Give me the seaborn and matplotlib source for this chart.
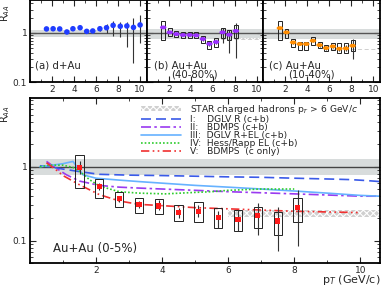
import numpy as np
import pandas as pd
import matplotlib
matplotlib.use("Agg")
import matplotlib.pyplot as plt
import seaborn as sns
from matplotlib.path import Path
from matplotlib.transforms import Affine2D
from matplotlib.ticker import FixedLocator, FixedFormatter, LogLocator, NullFormatter, MultipleLocator

# ---- data ----
dau_pt = [1.5, 2.1, 2.7, 3.35, 3.9, 4.55, 5.15, 5.7, 6.35, 6.95, 7.55, 8.2, 8.8, 9.4, 10.0]
dau_val = [1.21, 1.22, 1.21, 1.05, 1.22, 1.28, 1.08, 1.10, 1.22, 1.28, 1.43, 1.37, 1.39, 1.30, 1.46]
dau_lo = [1.17, 1.18, 1.17, 1.01, 1.17, 1.22, 1.03, 1.04, 1.08, 1.0, 0.88, 0.81, 0.53, 0.25, 0.62]
dau_hi = [1.25, 1.26, 1.25, 1.09, 1.27, 1.34, 1.13, 1.17, 1.39, 1.53, 1.73, 1.65, 1.65, 2.0, 2.36]

aa_pt = [1.5, 2.1, 2.7, 3.3, 3.9, 4.5, 5.1, 5.7, 6.3, 6.9, 7.5, 8.1]

per_val = [1.30, 1.03, 0.95, 0.91, 0.91, 0.895, 0.755, 0.60, 0.655, 1.03, 0.92, 1.10]
per_sys_lo = [0.73, 0.85, 0.83, 0.79, 0.79, 0.79, 0.64, 0.47, 0.53, 0.79, 0.71, 0.79]
per_sys_hi = [1.72, 1.26, 1.08, 1.03, 1.03, 1.03, 0.88, 0.70, 0.79, 1.26, 1.13, 1.48]
per_lo = [1.24, 0.98, 0.91, 0.87, 0.87, 0.85, 0.70, 0.54, 0.59, 0.62, 0.40, 0.31]
per_hi = [1.36, 1.08, 0.99, 0.95, 0.95, 0.94, 0.81, 0.67, 0.73, 1.26, 1.17, 1.60]

mid_val = [1.26, 1.03, 0.643, 0.596, 0.596, 0.696, 0.568, 0.494, 0.534, 0.478, 0.485, 0.55]
mid_sys_lo = [0.73, 0.79, 0.53, 0.46, 0.46, 0.58, 0.49, 0.42, 0.45, 0.39, 0.40, 0.42]
mid_sys_hi = [1.72, 1.20, 0.75, 0.67, 0.67, 0.83, 0.66, 0.58, 0.64, 0.62, 0.62, 0.73]
mid_lo = [1.2, 0.98, 0.61, 0.56, 0.56, 0.66, 0.53, 0.46, 0.49, 0.43, 0.42, 0.29]
mid_hi = [1.32, 1.08, 0.68, 0.63, 0.63, 0.73, 0.61, 0.53, 0.58, 0.53, 0.56, 0.75]

cen_val = [0.98, 0.54, 0.37, 0.31, 0.295, 0.24, 0.25, 0.205, 0.195, 0.22, 0.185, 0.28]
cen_sys_lo = [0.52, 0.38, 0.285, 0.24, 0.23, 0.186, 0.18, 0.15, 0.134, 0.15, 0.12, 0.18]
cen_sys_hi = [1.45, 0.69, 0.46, 0.38, 0.37, 0.30, 0.33, 0.28, 0.26, 0.29, 0.245, 0.38]
cen_lo = [0.8, 0.48, 0.33, 0.28, 0.26, 0.20, 0.21, 0.15, 0.134, 0.12, 0.072, 0.084]
cen_hi = [1.2, 0.60, 0.40, 0.34, 0.35, 0.28, 0.30, 0.25, 0.26, 0.32, 0.29, 0.49]

# theory curves (bottom panel)
dglv_pt = [0.3, 0.6, 1.0, 1.5, 2.1, 3.0, 4.0, 5.0, 6.0, 7.0, 8.0, 8.6, 9.2, 9.7, 10.2, 10.6]
dglv_val = [1.03, 1.0, 0.93, 0.86, 0.79, 0.77, 0.76, 0.745, 0.73, 0.72, 0.70, 0.69, 0.68, 0.67, 0.65, 0.63]
bdmps_pt = [0.5, 0.8, 1.1, 1.5, 2.1, 2.7, 3.3, 4.0, 5.0, 6.0, 7.0, 8.0, 9.0, 10.0, 10.6]
bdmps_val = [1.18, 0.95, 0.78, 0.64, 0.56, 0.53, 0.515, 0.50, 0.48, 0.46, 0.445, 0.43, 0.415, 0.40, 0.40]
dglvel_pt = [0.3, 0.6, 1.0, 1.3, 1.6, 2.0, 2.7, 3.3, 4.0, 5.0, 6.0, 7.0, 8.0, 9.0, 10.0, 10.6]
dglvel_val = [1.0, 1.04, 1.1, 1.18, 0.78, 0.70, 0.66, 0.63, 0.60, 0.56, 0.53, 0.50, 0.47, 0.44, 0.41, 0.40]
hess_pt = [0.3, 0.6, 1.0, 1.3, 1.5, 1.8, 2.1, 2.7, 3.3, 4.1, 5.0, 5.5, 6.0, 7.0, 8.0]
hess_val = [1.0, 1.05, 1.05, 0.98, 0.87, 0.67, 0.55, 0.46, 0.44, 0.43, 0.45, 0.46, 0.48, 0.50, 0.50]
bdmpsc_pt = [0.5, 0.8, 1.0, 1.5, 2.1, 2.7, 3.3, 3.9, 5.0, 6.0, 7.0, 8.0, 9.0, 10.0]
bdmpsc_val = [1.13, 0.9, 0.76, 0.57, 0.42, 0.345, 0.31, 0.30, 0.28, 0.27, 0.26, 0.25, 0.245, 0.24]

curve_labels = ["I:    DGLV R (c+b)", "II:   BDMPS (c+b)", "III:  DGLV R+EL (c+b)",
                "IV:  Hess/Rapp EL (c+b)", "V:   BDMPS  (c only)"]
star_label = "STAR charged hadrons p$_T$ > 6 GeV/$c$"
star_band = {"bot": (0.21, 0.26), "per": (0.73, 0.79), "mid": (0.44, 0.47)}
x_ticks = [2, 4, 6, 8, 10]

sns.set_theme(style="ticks")
plt.rcParams["font.family"] = ["DejaVu Sans"]
plt.rcParams["mathtext.fontset"] = "dejavusans"
plt.rcParams["hatch.linewidth"] = 0.8
plt.rcParams["hatch.color"] = "#8a8a8a"

fig = plt.figure(figsize=(3.82, 2.86), dpi=100)
w = 0.3055
ax_a = fig.add_axes([0.0785, 0.713, w, 0.287])
ax_b = fig.add_axes([0.0785 + w, 0.713, w, 0.287])
ax_c = fig.add_axes([0.0785 + 2 * w, 0.713, w, 0.287])
ax_d = fig.add_axes([0.0785, 0.0804, 0.9165, 0.577])

ellipse = Path.unit_circle().transformed(Affine2D().scale(1.7, 1.0))


def style_ax(ax, ylim, labely=True):
    ax.set_yscale("log")
    ax.set_xlim(0, 10.6)
    ax.set_ylim(*ylim)
    ax.xaxis.set_major_locator(FixedLocator(x_ticks))
    ax.xaxis.set_major_formatter(FixedFormatter([str(t) for t in x_ticks]))
    ax.xaxis.set_minor_locator(MultipleLocator(1))
    ax.yaxis.set_major_locator(FixedLocator([0.1, 1]))
    ax.yaxis.set_major_formatter(FixedFormatter(["0.1", "1"]))
    ax.yaxis.set_minor_locator(LogLocator(subs=np.arange(2, 10)))
    ax.yaxis.set_minor_formatter(NullFormatter())
    ax.tick_params(which="both", direction="in", top=True, right=True,
                   labelsize=6.5, pad=2, labelleft=labely)
    ax.tick_params(which="major", length=4, width=0.8)
    ax.tick_params(which="minor", length=2, width=0.6)
    for s in ax.spines.values():
        s.set_linewidth(1.3)
        s.set_color("black")
    ax.set_xlabel("")
    ax.set_ylabel("")


def draw_set(ax, pt, val, lo, hi, color, s, marker, sys_lo=None, sys_hi=None, bw=0.36):
    if sys_lo is not None:
        ax.bar(pt, np.array(sys_hi) - np.array(sys_lo), bottom=sys_lo, width=bw,
               fill=False, edgecolor="#222222", linewidth=0.7, zorder=3)
    ax.vlines(pt, lo, hi, color="#333333", linewidth=0.8, zorder=4)
    df = pd.DataFrame({"pt": pt, "val": val})
    sns.scatterplot(data=df, x="pt", y="val", ax=ax, color=color, s=s, marker=marker,
                    edgecolor="none", zorder=5, legend=False)


# top panels
for ax, band in [(ax_a, (0.83, 1.17)), (ax_b, (0.75, 1.2)), (ax_c, (0.75, 1.2))]:
    ax.set_yscale("log")
    ax.axhspan(*band, color="#d8dcdc", zorder=0, lw=0)
    ax.axhline(1, color="#555555", lw=1.0, zorder=1)

ax_b.fill_between([6, 10.6], *star_band["per"], facecolor="#d0d0d0", hatch="xxxxx", lw=0, zorder=1)
ax_c.fill_between([6, 10.6], *star_band["mid"], facecolor="#d0d0d0", hatch="xxxxx", lw=0, zorder=1)

draw_set(ax_a, dau_pt, dau_val, dau_lo, dau_hi, "#1f3cff", 16, "o")
draw_set(ax_b, aa_pt, per_val, per_lo, per_hi, "#9b30ff", 22, ellipse, per_sys_lo, per_sys_hi)
draw_set(ax_c, aa_pt, mid_val, mid_lo, mid_hi, "#ff8c00", 22, ellipse, mid_sys_lo, mid_sys_hi)

style_ax(ax_a, (0.1, 4.7))
style_ax(ax_b, (0.1, 4.7), labely=False)
style_ax(ax_c, (0.1, 4.7), labely=False)

ax_a.text(0.04, 0.17, "(a) d+Au", transform=ax_a.transAxes, fontsize=7.3)
ax_b.text(0.06, 0.17, "(b) Au+Au", transform=ax_b.transAxes, fontsize=7.3)
ax_b.text(0.21, 0.05, "(40-80%)", transform=ax_b.transAxes, fontsize=7.3)
ax_c.text(0.05, 0.17, "(c) Au+Au", transform=ax_c.transAxes, fontsize=7.3)
ax_c.text(0.21, 0.05, "(10-40%)", transform=ax_c.transAxes, fontsize=7.3)
ax_a.set_ylabel("R$_{AA}$", fontsize=7)
ax_a.yaxis.set_label_coords(-0.15, 0.84)

# bottom panel
ax_d.set_yscale("log")
ax_d.axhspan(0.78, 1.27, color="#d8dcdc", zorder=0, lw=0)
ax_d.axhline(1, color="#444444", lw=1.0, zorder=1)
ax_d.fill_between([6, 10.6], *star_band["bot"], facecolor="#d0d0d0", hatch="xxxxx",
                  lw=0, zorder=1, label=star_label)

curves = [(dglv_pt, dglv_val, "#3a5ae8", (0, (6, 3))),
          (bdmps_pt, bdmps_val, "#9a3af0", (0, (6, 2, 1.5, 2))),
          (dglvel_pt, dglvel_val, "#66b2ff", "-"),
          (hess_pt, hess_val, "#2ecc2e", (0, (1, 1.2))),
          (bdmpsc_pt, bdmpsc_val, "#f03030", (0, (5, 2, 1, 2, 1, 2)))]
for (cx, cy, col, ls), lab in zip(curves, curve_labels):
    sns.lineplot(x=cx, y=cy, ax=ax_d, color=col, linestyle=ls, lw=1.2,
                 estimator=None, sort=False, label=lab, zorder=2)

draw_set(ax_d, aa_pt, cen_val, cen_lo, cen_hi, "#ff1a1a", 14, "s",
         cen_sys_lo, cen_sys_hi, bw=0.25)

style_ax(ax_d, (0.05, 8.5))
ax_d.set_xlabel("p$_T$ (GeV/c)", loc="right", fontsize=8, labelpad=-1)
ax_d.set_ylabel("R$_{AA}$", fontsize=7)
ax_d.yaxis.set_label_coords(-0.05, 0.9)
ax_d.text(0.066, 0.067, "Au+Au (0-5%)", transform=ax_d.transAxes, fontsize=8.5)

ax_d.legend(loc="upper left", bbox_to_anchor=(0.3, 1.01), frameon=False, fontsize=6.6,
            handlelength=4.3, handletextpad=1.0, labelspacing=-0.1, borderpad=0.2,
            handleheight=0.6)

fig.savefig("out.png", dpi=100)
